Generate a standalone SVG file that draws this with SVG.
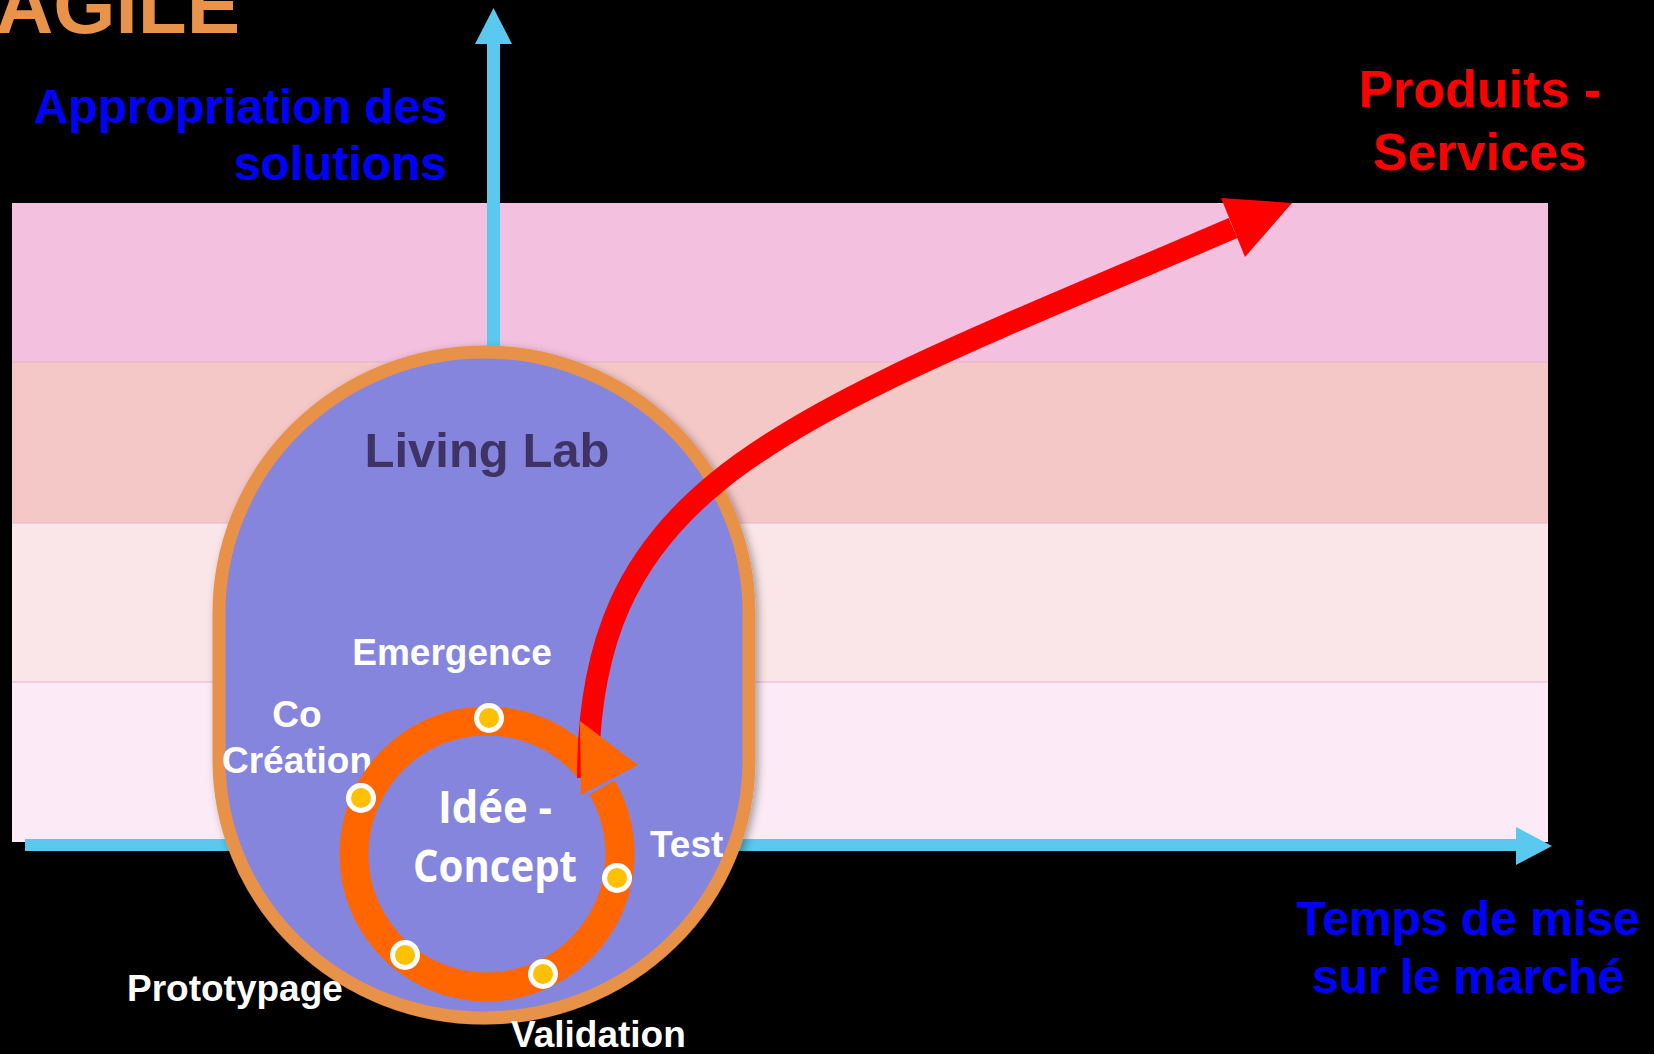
<svg xmlns="http://www.w3.org/2000/svg" width="1654" height="1054" viewBox="0 0 1654 1054">
<style>
.t{font-family:"Liberation Sans",Arial,sans-serif;font-weight:bold}
.w{fill:#FFFFFF;font-size:37px}
.blue{fill:#0000FF;font-size:48px}
.red{fill:#FF0000;font-size:52px}
.ax{fill:#5AC8EF}
.dot{fill:#FFC000;stroke:#FFFFFF;stroke-width:5}
.band-sep{stroke:#E6B4CC;stroke-width:1}
</style>
<defs>
<filter id="sh" x="-10%" y="-10%" width="120%" height="120%">
<feDropShadow dx="3" dy="3" stdDeviation="4" flood-color="#000" flood-opacity="0.35"/>
</filter>
</defs>
<rect x="0" y="0" width="1654" height="1054" fill="#000000"/>
<g id="bands">
<rect x="12" y="203" width="1536" height="159" fill="#F3C0E0"/>
<rect x="12" y="362" width="1536" height="161" fill="#F5C8C8"/>
<rect x="12" y="523" width="1536" height="159" fill="#FAE6E8"/>
<rect x="12" y="682" width="1536" height="160" fill="#FCEBF6"/>
<line class="band-sep" x1="12" y1="362" x2="1548" y2="362"/>
<line class="band-sep" x1="12" y1="523" x2="1548" y2="523"/>
<line class="band-sep" x1="12" y1="682" x2="1548" y2="682"/>
</g>
<text class="t" x="240" y="33" text-anchor="end" font-size="80" fill="#E8924A">AGILE</text>
<text class="t blue" x="447" y="123" text-anchor="end">Appropriation des</text>
<text class="t blue" x="447" y="180" text-anchor="end">solutions</text>
<text class="t red" x="1480" y="107" text-anchor="middle">Produits -</text>
<text class="t red" x="1480" y="170" text-anchor="middle">Services</text>
<text class="t blue" x="1468" y="935" text-anchor="middle">Temps de mise</text>
<text class="t blue" x="1468" y="993" text-anchor="middle">sur le marché</text>
<g id="axes">
<rect class="ax" x="487" y="42" width="13" height="804"/>
<polygon class="ax" points="475,44 493.5,8 512,44"/>
<rect class="ax" x="25" y="839" width="1493" height="12"/>
<polygon class="ax" points="1516,827 1552,846 1516,865"/>
</g>
<g id="living-lab">
<path d="M 219 613 A 265 261 0 0 1 749 613 L 749 760 A 265 258 0 0 1 219 760 Z" fill="#8585DD" stroke="#E8924A" stroke-width="13" filter="url(#sh)"/>
<text class="t" x="487" y="467" text-anchor="middle" font-size="49" fill="#3F3366">Living Lab</text>
</g>
<g id="labels">
<text class="t w" x="452" y="665" text-anchor="middle">Emergence</text>
<text class="t w" x="297" y="727" text-anchor="middle">Co</text>
<text class="t w" x="297" y="773" text-anchor="middle">Création</text>
<text class="t w" x="650" y="857">Test</text>
<text class="t w" x="127" y="1001">Prototypage</text>
<text class="t w" x="511" y="1047">Validation</text>
</g>
<g id="cycle">
<path d="M 602.2 787.5 A 133 133 0 1 1 588.9 768.5" fill="none" stroke="#FF6600" stroke-width="29"/>
<text x="495" y="823" text-anchor="middle" font-family="'Open Sans','Noto Sans',sans-serif" font-weight="bold" font-size="44" fill="#FFFFFF" textLength="114" lengthAdjust="spacingAndGlyphs">Idée -</text>
<text x="495" y="882" text-anchor="middle" font-family="'Open Sans','Noto Sans',sans-serif" font-weight="bold" font-size="44" fill="#FFFFFF" textLength="164" lengthAdjust="spacingAndGlyphs">Concept</text>
</g>
<g id="connectors">
<path d="M 588 778 C 588 478, 783 421.5, 1233 228" fill="none" stroke="#FF0000" stroke-width="22"/>
<polygon points="1221,198 1292,203 1245,257" fill="#FF0000"/>
<polygon points="580,721 638,765 581,795" fill="#FF6600"/>
</g>
<g id="dots">
<circle class="dot" cx="489" cy="718" r="12.5"/>
<circle class="dot" cx="361" cy="798" r="12.5"/>
<circle class="dot" cx="617" cy="878" r="12.5"/>
<circle class="dot" cx="405" cy="955" r="12.5"/>
<circle class="dot" cx="543" cy="974" r="12.5"/>
</g>
</svg>
